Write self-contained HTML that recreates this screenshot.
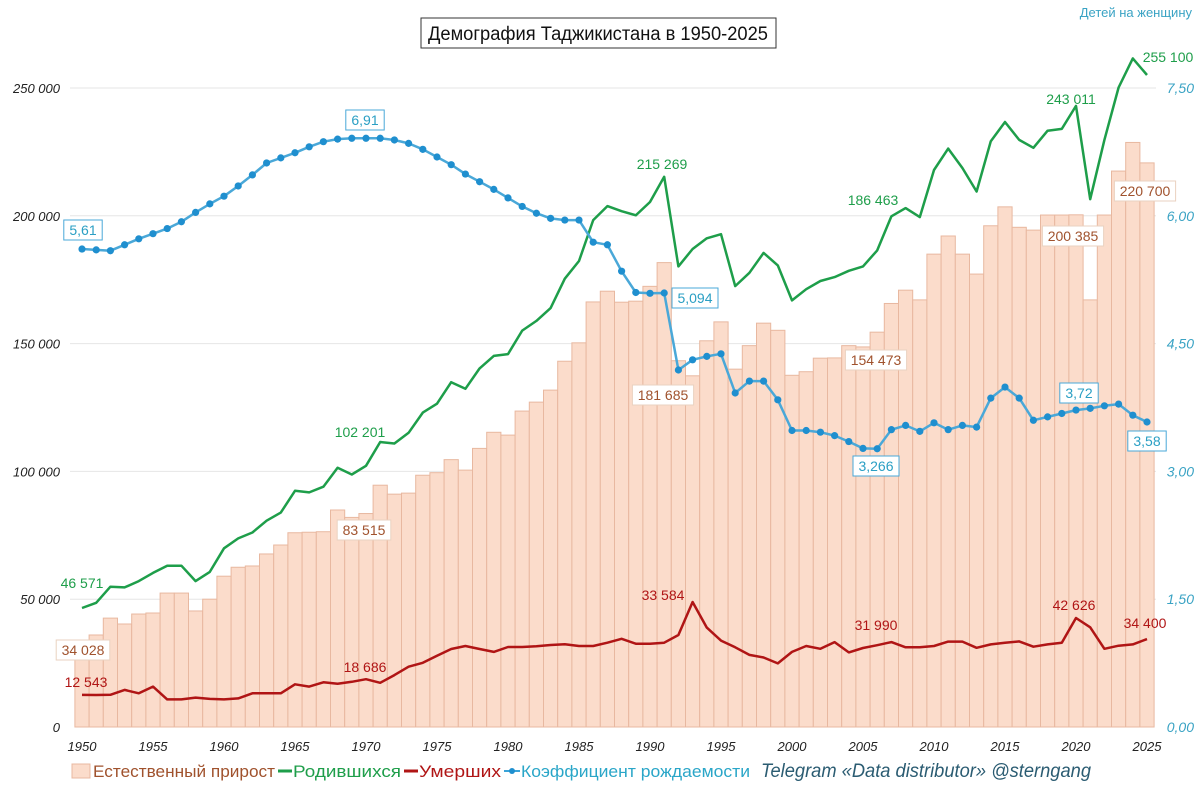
<!DOCTYPE html>
<html><head><meta charset="utf-8"><style>
body{margin:0;background:#fff;}
svg{display:block;font-family:"Liberation Sans","DejaVu Sans",sans-serif;}
</style></head><body>
<svg id="chart" width="1200" height="790" viewBox="0 0 1200 790">
<rect x="0" y="0" width="1200" height="790" fill="#fff"/>
<g id="grid"></g><g id="bars"></g><g id="lines"></g><g id="axes"></g><g id="labels"></g>
<rect x="421" y="18" width="355" height="30" fill="#fff" stroke="#333" stroke-width="1"/>
<text x="598" y="40" text-anchor="middle" font-size="19" fill="#111" textLength="340" lengthAdjust="spacingAndGlyphs">Демография Таджикистана в 1950-2025</text>
<text x="1192" y="17" text-anchor="end" font-size="13" fill="#3aa3c4">Детей на женщину</text>
<g>
<rect x="72" y="764" width="18" height="14" fill="#fbdccb" stroke="#e8b8a0"/>
<text x="93" y="777" font-size="17" fill="#a0522d" textLength="182" lengthAdjust="spacingAndGlyphs">Естественный прирост</text>
<line x1="278" y1="771" x2="292" y2="771" stroke="#1e9e4a" stroke-width="3"/>
<text x="293" y="777" font-size="17" fill="#1e9e4a" textLength="108" lengthAdjust="spacingAndGlyphs">Родившихся</text>
<line x1="404" y1="771" x2="418" y2="771" stroke="#b01515" stroke-width="3"/>
<text x="419" y="777" font-size="17" fill="#b01515" textLength="82" lengthAdjust="spacingAndGlyphs">Умерших</text>
<line x1="504" y1="771" x2="520" y2="771" stroke="#3aa3d8" stroke-width="2"/>
<circle cx="512" cy="771" r="3" fill="#1f8fcf"/>
<text x="521" y="777" font-size="17" fill="#2aa6c8" textLength="229" lengthAdjust="spacingAndGlyphs">Коэффициент рождаемости</text>
<text x="761" y="777" font-size="19" font-style="italic" fill="#2b5c72" textLength="330" lengthAdjust="spacingAndGlyphs">Telegram «Data distributor» @sterngang</text>
</g>
</svg>
<script>
const years=[];for(let y=1950;y<=2025;y++)years.push(y);
const increase=[34028,36000,42600,40300,44200,44600,52400,52400,45400,50000,59000,62500,63000,67700,71200,76000,76200,76400,84900,82000,83515,94600,91100,91500,98500,99500,104600,100500,109000,115300,114200,123600,127100,131800,143100,150300,166300,170500,166200,166600,172400,181685,143300,137400,151100,158500,140000,149200,158000,155200,137600,139000,144300,144400,149200,148700,154473,165700,170900,167100,185000,192100,185000,177200,196100,203500,195500,194400,200300,200300,200385,167100,200300,217500,228700,220700];
const births=[46571,48600,54900,54600,57100,60300,63100,63100,57100,60700,69900,73800,76100,80700,83900,92400,91800,94000,101400,98800,102201,111500,110900,115100,123000,126500,134900,132300,140300,145200,145900,155100,158900,163900,175400,182300,198300,203800,201800,200200,205400,215269,180200,187000,191200,192800,172500,177700,185500,180600,166900,171300,174500,176000,178500,180200,186463,199800,203000,199500,217900,226300,218700,209500,229200,236700,229700,226600,233300,234000,243011,206500,229700,250200,261600,255100];
const deaths=[12543,12500,12600,14500,13200,15800,10800,10800,11500,11000,10800,11200,13200,13200,13200,16700,15800,17500,16900,17700,18686,17300,20300,23600,25100,27900,30500,31700,30500,29400,31300,31300,31600,32100,32400,31700,31700,33000,34500,32600,32600,33000,36000,48900,38900,33800,31200,28200,27200,24900,29400,31700,30600,33200,29200,30900,31990,33200,31200,31200,31700,33400,33400,31000,32300,33000,33500,31400,32300,33000,42626,39000,30600,31800,32300,34400];
const tfr=[5.61,5.60,5.59,5.66,5.73,5.79,5.85,5.93,6.04,6.14,6.23,6.35,6.48,6.62,6.68,6.74,6.81,6.87,6.90,6.91,6.91,6.91,6.89,6.85,6.78,6.69,6.60,6.49,6.40,6.31,6.21,6.11,6.03,5.97,5.95,5.95,5.69,5.66,5.35,5.10,5.09,5.094,4.19,4.31,4.35,4.38,3.92,4.06,4.06,3.84,3.48,3.48,3.46,3.42,3.35,3.27,3.266,3.49,3.54,3.47,3.57,3.49,3.54,3.52,3.86,3.99,3.86,3.60,3.64,3.68,3.72,3.74,3.77,3.79,3.66,3.58];
const leftTicks=[0,50000,100000,150000,200000,250000];
const leftTickLabels=["0","50 000","100 000","150 000","200 000","250 000"];
const rightTicks=[0,1.5,3,4.5,6,7.5];
const rightTickLabels=["0,00","1,50","3,00","4,50","6,00","7,50"];
const xTicks=[1950,1955,1960,1965,1970,1975,1980,1985,1990,1995,2000,2005,2010,2015,2020,2025];

const NS="http://www.w3.org/2000/svg";
const X0=82,X1=1147,Y0=727,Y1=88;
const xs=y=>X0+(y-1950)*(X1-X0)/75;
const yl=v=>Y0-v*(Y0-Y1)/250000;
const yr=v=>Y0-v*(Y0-Y1)/7.5;
function mk(tag,attrs,parent){const e=document.createElementNS(NS,tag);for(const k in attrs)e.setAttribute(k,attrs[k]);parent.appendChild(e);return e;}
const G=id=>document.getElementById(id);

leftTicks.forEach((t,i)=>{
  if(t>0){const l=mk('line',{x1:70,x2:1156,y1:yl(t),y2:yl(t),stroke:'#e6e6e6','stroke-width':1},G('grid'));
  
  }
  const tx=mk('text',{x:60,y:yl(t)+5,'text-anchor':'end','font-size':13,'font-style':'italic',fill:'#222'},G('axes'));
  tx.textContent=leftTickLabels[i];
  
  
});
rightTicks.forEach((t,i)=>{
  const tx=mk('text',{x:1194,y:yr(t)+5,'text-anchor':'end','font-size':14,'font-style':'italic',fill:'#3aa3c4'},G('axes'));
  tx.textContent=rightTickLabels[i];
  
  
});
xTicks.forEach(t=>{
  const tx=mk('text',{x:xs(t),y:751,'text-anchor':'middle','font-size':13,'font-style':'italic',fill:'#222'},G('axes'));
  tx.textContent=t;
  
  
});
const bw=(X1-X0)/75;
years.forEach((y,i)=>{
  const r=mk('rect',{x:xs(y)-bw/2,y:yl(increase[i]),width:bw,height:Y0-yl(increase[i]),fill:'#fbdccb',stroke:'#e8b8a0','stroke-width':1},G('bars'));
  
  
});
function line(arr,f,color,w,name){
  const d=arr.map((v,i)=>(i?'L':'M')+xs(years[i]).toFixed(1)+' '+f(v).toFixed(1)).join(' ');
  const p=mk('path',{d:d,fill:'none',stroke:color,'stroke-width':w,'stroke-linejoin':'round'},G('lines'));
  
  
}
line(births,yl,'#1e9e4a',2.5,'births-line');
line(deaths,yl,'#b01515',2.5,'deaths-line');
line(tfr,yr,'#4aa8d8',2.5,'tfr-line');
tfr.forEach((v,i)=>{
  const c=mk('circle',{cx:xs(years[i]),cy:yr(v),r:3.6,fill:'#1f8fcf'},G('lines'));
  
  
});
const labels=[
 ["46 571",82,588,'#1e9e4a',0],["34 028",83,655,'#a0522d',1],["12 543",86,687,'#b01515',0],
 ["102 201",360,437,'#1e9e4a',0],["83 515",364,535,'#a0522d',1],["18 686",365,672,'#b01515',0],
 ["6,91",365,125,'#2a9fc4',2],["5,61",83,235,'#2a9fc4',2],
 ["215 269",662,169,'#1e9e4a',0],["5,094",695,303,'#2a9fc4',2],["181 685",663,400,'#a0522d',1],["33 584",663,600,'#b01515',0],
 ["186 463",873,205,'#1e9e4a',0],["154 473",876,365,'#a0522d',1],["3,266",876,471,'#2a9fc4',2],["31 990",876,630,'#b01515',0],
 ["243 011",1071,104,'#1e9e4a',0],["200 385",1073,241,'#a0522d',1],["3,72",1079,398,'#2a9fc4',2],["42 626",1074,610,'#b01515',0],
 ["255 100",1168,62,'#1e9e4a',0],["220 700",1145,196,'#a0522d',1],["3,58",1147,446,'#2a9fc4',2],["34 400",1145,628,'#b01515',0]
];
labels.forEach(L=>{
  const [t,x,y,c,box]=L;
  const w=t.length*7.6+8;
  if(box){const b=mk('rect',{x:x-w/2,y:y-15,width:w,height:20,fill:'#fff',stroke:box==2?'#4aa8d8':'#ead2c0','stroke-width':1},G('labels'));
    
    }
  const tx=mk('text',{x:x,y:y,'text-anchor':'middle','font-size':14,fill:c},G('labels'));
  tx.textContent=t;
  
  
});
</script>
</body></html>
